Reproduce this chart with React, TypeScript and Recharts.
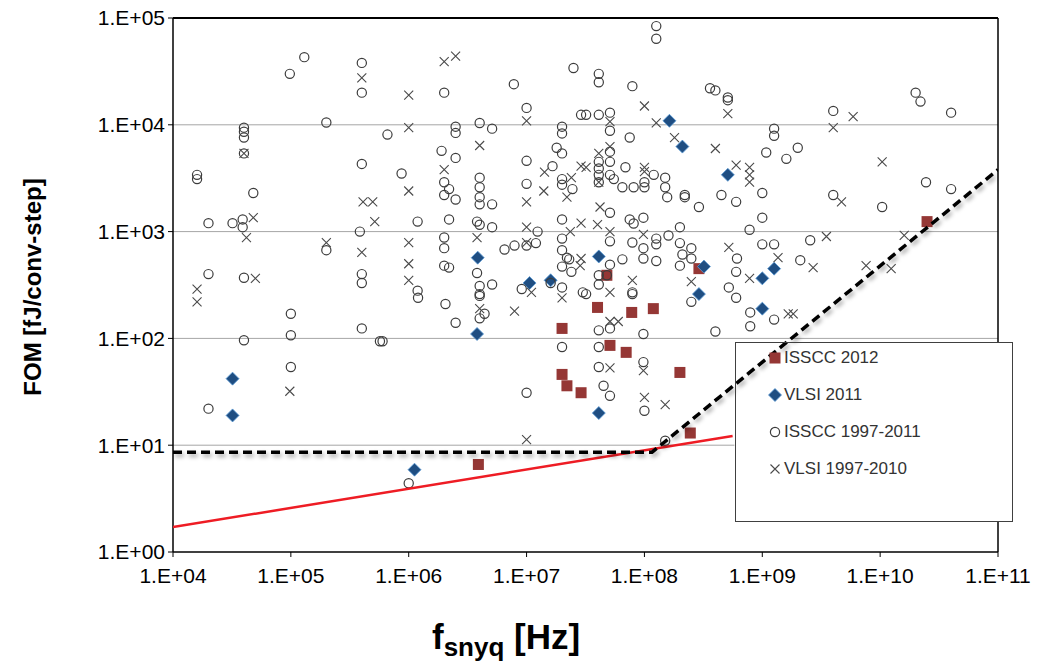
import React from "react"
import { ScatterChart, Scatter, XAxis, YAxis, ReferenceLine, Legend, Label } from "recharts"

const FONT = '"Liberation Sans", Arial, sans-serif'

const xTicks = [1e4, 1e5, 1e6, 1e7, 1e8, 1e9, 1e10, 1e11]
const yTicks = [1, 10, 100, 1e3, 1e4, 1e5]

// [f_snyq (Hz), FOM (fJ/conv-step)]
const isscc2012 = [
  [2.5e10, 1240], [2.9e8, 450], [4.8e7, 390], [4.0e7, 195], [7.8e7, 175], [1.19e8, 190],
  [5.1e7, 86], [7.0e7, 74], [2.0e7, 124], [2.0e7, 46], [2.2e7, 36], [2.9e7, 31],
  [2.0e8, 48], [2.45e8, 13], [3.9e6, 6.6],
]

const vlsi2011 = [
  [3.2e4, 42], [3.2e4, 19], [1.12e6, 5.9], [3.85e6, 570], [3.8e6, 110], [1.06e7, 330],
  [1.6e7, 350], [4.1e7, 585], [1.63e8, 10900], [2.1e8, 6250], [5.1e8, 3400], [3.2e8, 470],
  [2.9e8, 260], [1.26e9, 450], [1.0e9, 365], [1.0e9, 190], [4.1e7, 20],
]

const isscc9711 = [
  [1.3e5, 4.3e4], [9.8e4, 3.0e4], [4.0e5, 3.8e4], [4.0e5, 2.0e4], [2.0e5, 1.05e4], [4.0e4, 9.4e3],
  [4.0e4, 8.6e3], [4.0e4, 7.6e3], [4.0e4, 5.4e3], [1.6e4, 3.4e3], [1.6e4, 3.1e3], [4.8e4, 2.3e3],
  [4.0e5, 4.3e3], [2.0e4, 1.2e3], [3.2e4, 1.2e3], [3.9e4, 1.3e3], [3.9e4, 1.1e3], [3.85e5, 1.0e3],
  [2.0e5, 670], [2.0e4, 400], [4.0e4, 370], [4.0e5, 400], [4.0e5, 330], [1.0e5, 170],
  [4.0e5, 124], [1.0e5, 107], [4.0e4, 96], [5.7e5, 94], [1.0e5, 54], [2.0e4, 22],
  [2.5e7, 3.4e4], [7.8e6, 2.4e4], [2.0e6, 2.0e4], [6.6e5, 8.1e3], [2.5e6, 9.6e3], [2.5e6, 8.4e3],
  [4.0e6, 1.04e4], [5.1e6, 9.2e3], [1.0e7, 1.44e4], [2.0e7, 9.6e3], [2.0e7, 8.3e3], [2.9e7, 1.24e4],
  [1.9e6, 5.7e3], [2.5e6, 4.9e3], [1.8e7, 6.1e3], [2.0e7, 5.4e3], [1.0e7, 4.6e3], [1.66e7, 4.1e3],
  [8.7e5, 3.5e3], [2.0e6, 2.9e3], [2.2e6, 2.5e3], [4.0e6, 3.2e3], [4.0e6, 2.6e3], [1.0e7, 2.8e3],
  [2.0e7, 3.1e3], [2.0e7, 2.75e3], [2.45e7, 2.5e3],
  [2.0e6, 2.2e3], [2.5e6, 2.0e3], [4.0e6, 2.1e3], [4.0e6, 1.8e3], [5.1e6, 1.8e3], [1.19e6, 1.24e3],
  [2.2e6, 1.3e3], [3.8e6, 1.24e3], [4.0e6, 1.16e3], [5.1e6, 1.1e3], [1.24e7, 1.0e3], [2.0e7, 1.3e3],
  [2.0e6, 880], [2.0e6, 700], [6.5e6, 680], [7.9e6, 740], [1.0e7, 740], [1.2e7, 780],
  [2.0e7, 860], [2.0e7, 670], [2.2e7, 570], [2.3e7, 550], [2.0e6, 480], [2.2e6, 460],
  [2.0e7, 470], [2.4e7, 420], [1.19e6, 280], [1.2e6, 240], [3.8e6, 410], [4.0e6, 310],
  [5.1e6, 320], [4.0e6, 260], [4.0e6, 250], [9.1e6, 290], [1.6e7, 330], [2.0e7, 300],
  [3.0e7, 270], [2.05e6, 210], [4.4e6, 170], [4.0e6, 154], [2.5e6, 140], [6.0e5, 94],
  [2.0e7, 83], [1.0e7, 31], [1.0e6, 4.4],
  [1.26e8, 8.4e4], [1.26e8, 6.4e4], [4.1e7, 3.0e4], [4.1e7, 2.5e4], [7.9e7, 2.3e4], [3.6e8, 2.2e4],
  [4.0e8, 2.1e4], [5.1e8, 1.8e4], [5.1e8, 1.7e4], [3.2e7, 1.24e4], [4.1e7, 1.24e4], [5.1e7, 1.3e4],
  [5.1e7, 8.8e3], [7.5e7, 7.6e3], [1.26e9, 9.2e3], [1.26e9, 7.9e3], [5.1e7, 5.6e3], [5.1e7, 4.5e3],
  [1.08e9, 5.5e3], [1.6e9, 4.8e3], [4.1e7, 4.5e3], [6.9e7, 4.0e3], [1.2e8, 3.4e3], [1.5e8, 3.2e3],
  [4.1e7, 3.9e3], [4.1e7, 3.4e3], [4.1e7, 2.9e3], [5.1e7, 3.4e3], [5.5e7, 3.1e3], [6.5e7, 2.6e3],
  [8.1e7, 2.6e3], [1.0e8, 2.9e3], [1.0e8, 2.6e3], [1.5e8, 2.6e3], [2.2e8, 2.2e3], [4.5e8, 2.2e3],
  [1.0e9, 2.3e3],
  [5.1e7, 1.5e3], [7.5e7, 1.3e3], [8.1e7, 1.19e3], [9.8e7, 1.35e3], [1.56e8, 2.1e3], [2.2e8, 2.1e3],
  [6.0e8, 1.9e3], [2.9e8, 1.7e3], [1.0e9, 1.35e3], [7.8e8, 1.04e3], [1.26e8, 860], [1.26e8, 760],
  [1.6e8, 920], [2.0e8, 1.1e3], [5.1e7, 810], [7.9e7, 790], [9.8e7, 700], [9.8e7, 560],
  [2.0e8, 780], [2.5e8, 700], [6.1e8, 560], [1.0e9, 760], [1.26e9, 760], [6.5e7, 550],
  [1.26e8, 530], [2.1e8, 610], [2.5e8, 560], [2.0e8, 480], [5.1e7, 490], [4.8e7, 390],
  [7.9e7, 270], [7.9e7, 260], [6.0e8, 420], [4.1e7, 390], [4.1e7, 320], [3.2e7, 260],
  [5.2e8, 300], [6.0e8, 240], [2.5e8, 220], [7.9e8, 175], [1.26e9, 150], [4.1e7, 119],
  [5.1e7, 124], [9.8e7, 110], [4.0e8, 116], [7.9e8, 130], [4.1e7, 83], [9.8e7, 60],
  [4.1e7, 54], [4.5e7, 36], [5.1e7, 29], [1.0e8, 21], [1.5e8, 11],
  [4.0e9, 1.35e4], [2.0e9, 6.1e3], [2.0e10, 2.0e4], [2.2e10, 1.65e4], [4.0e10, 1.3e4], [2.45e10, 2.9e3],
  [4.0e10, 2.5e3], [4.0e9, 2.2e3], [1.04e10, 1.7e3], [2.55e9, 830], [2.1e9, 540],
]

const vlsi9710 = [
  [4.0e5, 2.75e4], [4.0e4, 5.4e3], [4.1e5, 1.9e3], [4.95e5, 1.9e3], [4.8e4, 1.35e3], [4.2e4, 880],
  [5.15e5, 1.24e3], [2.0e5, 790], [4.0e5, 640], [1.6e4, 290], [1.6e4, 220], [5.0e4, 365],
  [9.8e4, 32],
  [2.0e6, 3.9e4], [2.5e6, 4.4e4], [1.0e6, 1.9e4], [1.0e6, 9.4e3], [1.0e7, 1.09e4], [4.0e6, 6.4e3],
  [2.0e6, 3.8e3], [1.42e7, 3.6e3], [2.9e7, 4.1e3], [2.4e7, 3.2e3], [1.4e7, 2.4e3], [1.0e6, 2.4e3],
  [1.0e7, 1.9e3], [2.2e7, 2.1e3], [1.0e7, 1.1e3], [2.35e7, 1.0e3], [2.9e7, 1.2e3], [1.0e6, 790],
  [3.8e6, 880], [1.0e7, 790], [2.9e7, 560], [1.0e6, 500], [2.85e7, 480], [1.0e6, 350],
  [1.1e7, 270], [2.0e7, 240], [4.0e6, 190], [7.9e6, 180], [1.0e7, 11.3],
  [1.0e8, 1.5e4], [5.1e8, 1.27e4], [5.1e7, 1.07e4], [1.26e8, 1.04e4], [1.8e8, 7.6e3], [4.0e8, 6.0e3],
  [5.1e7, 6.25e3], [4.1e7, 5.4e3], [1.0e8, 4.0e3], [1.0e8, 3.65e3], [6.0e8, 4.2e3], [7.8e8, 4.0e3],
  [7.8e8, 3.4e3], [7.8e8, 2.9e3], [3.2e7, 4.0e3], [4.1e7, 2.9e3], [4.2e7, 1.7e3], [4.0e7, 1.16e3],
  [5.1e7, 1.0e3], [9.8e7, 940], [5.2e8, 710], [1.36e9, 570], [7.8e8, 365], [7.9e7, 350],
  [2.5e8, 340], [5.1e7, 270], [1.66e9, 170], [5.1e7, 144], [6.0e7, 144], [5.1e7, 53],
  [9.8e7, 50], [1.0e8, 28], [1.5e8, 24],
  [5.9e9, 1.19e4], [4.0e9, 9.4e3], [1.04e10, 4.5e3], [4.7e9, 1.9e3], [3.5e9, 900], [2.7e9, 460],
  [1.6e10, 920], [7.6e9, 480], [1.24e10, 450], [1.83e9, 170],
]

// limit lines
const thermalLine = [[1e4, 1.71], [5.6e8, 12.2]]
const envelopeLine = [[1e4, 8.6], [1.16e8, 8.6], [1e11, 3.8e3]]

const toPts = (arr: number[][]) => arr.map(([f, fom]) => ({ f, fom }))

const fmt = (v: number) => {
  const e = Math.round(Math.log10(v))
  return `1.E+${String(e).padStart(2, "0")}`
}

const Square = (p: any) => <rect x={p.cx - 5.5} y={p.cy - 5.5} width={11} height={11} fill="#953735" />
const Diamond = (p: any) => (
  <path
    d={`M${p.cx},${p.cy - 6.5}L${p.cx + 6.5},${p.cy}L${p.cx},${p.cy + 6.5}L${p.cx - 6.5},${p.cy}Z`}
    fill="#1f4e82"
    stroke="#5b9bd5"
    strokeWidth={0.8}
  />
)
const Ring = (p: any) => <circle cx={p.cx} cy={p.cy} r={4.6} fill="none" stroke="#3c3c3c" strokeWidth={1.2} />
const Cross = (p: any) => (
  <path
    d={`M${p.cx - 4.5},${p.cy - 4.5}L${p.cx + 4.5},${p.cy + 4.5}M${p.cx - 4.5},${p.cy + 4.5}L${p.cx + 4.5},${p.cy - 4.5}`}
    stroke="#4a4a4a"
    strokeWidth={1.1}
    fill="none"
  />
)
const NoShape = () => <g />

const legendItems = [
  { name: "ISSCC 2012", Mark: Square },
  { name: "VLSI 2011", Mark: Diamond },
  { name: "ISSCC 1997-2011", Mark: Ring },
  { name: "VLSI 1997-2010", Mark: Cross },
]

const renderLegend = () => (
  <div
    style={{
      position: "relative",
      width: 278,
      height: 180,
      border: "1px solid #404040",
      boxSizing: "border-box",
      fontFamily: FONT,
      fontSize: 17,
      color: "#333",
    }}
  >
    {legendItems.map((it, i) => (
      <div key={it.name} style={{ position: "absolute", left: 30, top: 4 + i * 37, height: 22, display: "flex", alignItems: "center" }}>
        <svg width={16} height={16}>
          <it.Mark cx={9} cy={8} />
        </svg>
        <span style={{ marginLeft: 2 }}>{it.name}</span>
      </div>
    ))}
  </div>
)

const tickStyle = { fill: "#000", fontSize: 21, fontFamily: FONT }

export default function App() {
  return (
    <div style={{ position: "absolute", left: 0, top: 0, width: 1039, height: 662, background: "#fff" }}>
      <ScatterChart width={1039} height={662} margin={{ top: 18, right: 41, left: 0, bottom: 0 }}>
        <XAxis
          type="number"
          dataKey="f"
          scale="log"
          domain={[1e4, 1e11]}
          ticks={xTicks}
          interval={0}
          allowDataOverflow
          tickFormatter={fmt}
          height={110}
          tickSize={5}
          tickMargin={11}
          axisLine={{ stroke: "#000", strokeWidth: 1.5 }}
          tickLine={{ stroke: "#000" }}
          tick={tickStyle}
        >
          <Label
            content={() => (
              <text x={432} y={649} fontFamily={FONT} fontWeight="bold" fontSize={35} fill="#000">
                <tspan>f</tspan>
                <tspan fontSize={26} dy={7}>snyq</tspan>
                <tspan dy={-7}> [Hz]</tspan>
              </text>
            )}
          />
        </XAxis>
        <YAxis
          type="number"
          dataKey="fom"
          scale="log"
          domain={[1, 1e5]}
          ticks={yTicks}
          interval={0}
          allowDataOverflow
          tickFormatter={fmt}
          width={173}
          tickSize={5}
          tickMargin={3}
          axisLine={{ stroke: "#000", strokeWidth: 1.5 }}
          tickLine={{ stroke: "#000" }}
          tick={tickStyle}
        >
          <Label
            content={() => (
              <text
                x={32}
                y={287}
                transform="rotate(-90 32 287)"
                textAnchor="middle"
                dominantBaseline="central"
                fontFamily={FONT}
                fontWeight="bold"
                fontSize={24}
                fill="#000"
              >
                FOM [fJ/conv-step]
              </text>
            )}
          />
        </YAxis>

        {/* gridlines and frame */}
        <ReferenceLine y={1e4} stroke="#a6a6a6" strokeWidth={1} />
        <ReferenceLine y={1e3} stroke="#a6a6a6" strokeWidth={1} />
        <ReferenceLine y={1e2} stroke="#a6a6a6" strokeWidth={1} />
        <ReferenceLine segment={[{ x: 1e4, y: 10 }, { x: 5.8e8, y: 10 }]} stroke="#a6a6a6" strokeWidth={1} />
        <ReferenceLine y={1e5} stroke="#000" strokeWidth={2} />
        <ReferenceLine segment={[{ x: 1e11, y: 1e5 }, { x: 1e11, y: 92 }]} stroke="#000" strokeWidth={1.5} />
        <ReferenceLine segment={[{ x: 1e11, y: 1.91 }, { x: 1e11, y: 1 }]} stroke="#000" strokeWidth={1.5} />

        <Scatter name="ISSCC 2012" data={toPts(isscc2012)} shape={Square} isAnimationActive={false} />
        <Scatter name="VLSI 2011" data={toPts(vlsi2011)} shape={Diamond} isAnimationActive={false} />
        <Scatter name="ISSCC 1997-2011" data={toPts(isscc9711)} shape={Ring} isAnimationActive={false} />
        <Scatter name="VLSI 1997-2010" data={toPts(vlsi9710)} shape={Cross} isAnimationActive={false} />
        <Scatter
          data={toPts(thermalLine)}
          shape={NoShape}
          line={{ stroke: "#ee1c24", strokeWidth: 2.5 }}
          isAnimationActive={false}
        />
        <Scatter
          data={toPts(envelopeLine)}
          shape={NoShape}
          line={{ stroke: "#000", strokeWidth: 3.5, strokeDasharray: "9 5", style: { filter: "drop-shadow(2px 3px 2px rgba(0,0,0,0.35))" } }}
          isAnimationActive={false}
        />

        <Legend
          content={renderLegend}
          layout="horizontal"
          verticalAlign="middle"
          align="center"
          width={278}
          height={180}
          wrapperStyle={{ left: 735, top: 342, width: 278, height: 180 }}
        />
      </ScatterChart>
    </div>
  )
}
